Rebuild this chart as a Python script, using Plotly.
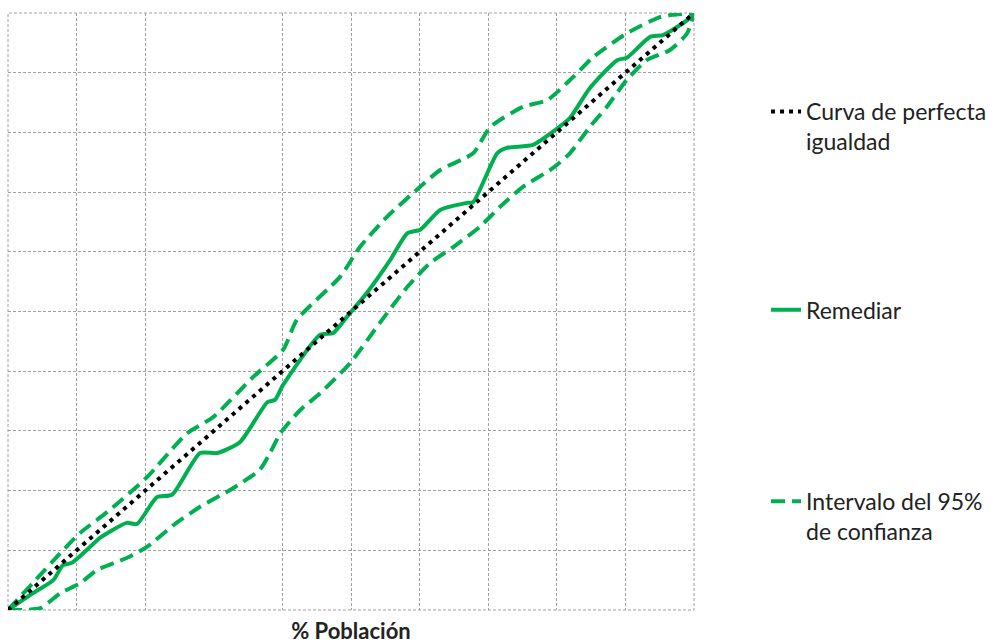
import plotly.graph_objects as go

# Perfect-equality diagonal
eq_x = [0, 100]
eq_y = [0, 100]

# Remediar concentration curve
rem_x = [0, 3.6, 6.6, 8.0, 9.3, 13.0, 13.4, 17.3, 18.8, 21.7, 23.9, 28.0, 30.5, 33.8,
         37.8, 38.9, 40.1, 45.5, 47.4, 49.4, 52.3, 55.7, 58.2, 60.1, 63.0, 66.9, 67.8,
         71.3, 72.7, 76.5, 79.4, 81.9, 84.8, 88.8, 90.2, 93.6, 95.5, 99.0, 100]
rem_y = [0, 2.8, 5.0, 7.5, 7.9, 11.7, 12.1, 14.6, 14.4, 18.9, 19.3, 26.3, 26.3, 28.1,
         34.8, 35.2, 37.7, 46.1, 46.4, 49.1, 53.1, 58.6, 63.1, 63.7, 67.0, 68.2, 68.3,
         76.5, 77.4, 77.9, 80.1, 82.4, 87.4, 92.1, 92.5, 96.0, 96.3, 98.8, 100]

# Upper bound of the 95% confidence interval
up_x = [0, 3.6, 7.6, 10.5, 14.9, 20.3, 26.1, 29.9, 35.7, 40.1, 42.1, 48.4, 51.3, 55.2,
        59.6, 63.0, 67.8, 70.3, 75.1, 78.6, 82.4, 85.3, 90.2, 95.0, 96.9, 100]
up_y = [0, 4.5, 9.5, 12.9, 16.8, 22.3, 29.6, 32.3, 39.0, 43.6, 48.6, 55.8, 60.8, 65.8,
        70.4, 73.7, 76.5, 80.9, 84.3, 85.4, 89.3, 92.6, 96.6, 99.3, 99.7, 100]

# Lower bound of the 95% confidence interval
lo_x = [0, 4.7, 7.6, 10.5, 13.0, 17.3, 20.3, 24.1, 28.0, 32.8, 36.7, 38.2, 39.7, 42.6,
        45.5, 49.9, 54.2, 58.2, 61.5, 64.9, 68.8, 71.7, 75.1, 79.4, 81.9, 84.8, 87.3,
        90.2, 93.1, 96.5, 99.0, 100]
lo_y = [0, 0.3, 2.8, 4.5, 6.7, 8.7, 10.6, 14.2, 17.3, 20.4, 23.5, 26.3, 29.6, 33.5,
        36.3, 41.4, 48.1, 54.1, 58.1, 60.8, 64.2, 67.5, 70.9, 74.0, 76.5, 80.9, 84.3,
        88.8, 92.1, 93.8, 96.6, 100]

grid_x = [10, 20, 40, 50, 60, 70, 80, 90]
grid_y = [10, 20, 30, 40, 50, 60, 70, 80, 90]

GREEN = "#00b050"
GRID = "#a0a0a0"

fig = go.Figure()
fig.add_trace(go.Scatter(x=lo_x, y=lo_y, mode="lines", name="Intervalo del 95%<br>de confianza",
                         line=dict(color=GREEN, width=4, dash="14px,7px", shape="spline", smoothing=0.6),
                         legend="legend3"))
fig.add_trace(go.Scatter(x=up_x, y=up_y, mode="lines", showlegend=False,
                         line=dict(color=GREEN, width=4, dash="14px,7px", shape="spline", smoothing=0.6)))
fig.add_trace(go.Scatter(x=rem_x, y=rem_y, mode="lines", name="Remediar",
                         line=dict(color=GREEN, width=4, shape="spline", smoothing=0.6),
                         legend="legend2"))
fig.add_trace(go.Scatter(x=eq_x, y=eq_y, mode="lines", name="Curva de perfecta<br>igualdad",
                         line=dict(color="black", width=4, dash="4px,5px"),
                         legend="legend"))

legend_common = dict(font=dict(family="Lato", size=23, color="#222222"),
                     bgcolor="rgba(0,0,0,0)", borderwidth=0, valign="top",
                     xanchor="left", yanchor="top")

# dashed frame around the plotting area (outer grid lines)
fig.add_shape(type="rect", xref="paper", yref="paper", x0=0, y0=0, x1=1, y1=1,
              line=dict(color=GRID, width=1, dash="3px,2px"), layer="below")

fig.update_layout(
    width=997, height=644,
    margin=dict(l=8, r=303, t=13, b=34, autoexpand=False),
    paper_bgcolor="white", plot_bgcolor="white",
    hovermode=False,
    xaxis=dict(range=[0, 100], tickvals=grid_x, showticklabels=False, ticks="",
               showgrid=True, gridcolor=GRID, gridwidth=1, griddash="3px,2px",
               zeroline=False, showline=False, automargin=False,
               title=dict(text="<b>% Población</b>", font=dict(family="Lato", size=22, color="#222222"),
                          standoff=16)),
    yaxis=dict(range=[0, 100], tickvals=grid_y, showticklabels=False, ticks="",
               showgrid=True, gridcolor=GRID, gridwidth=1, griddash="3px,2px",
               zeroline=False, showline=False, automargin=False),
    legend=dict(x=1.105, y=0.871, **legend_common),
    legend2=dict(x=1.105, y=0.539, **legend_common),
    legend3=dict(x=1.105, y=0.218, **legend_common),
)

# remove the default 8px body margin of the page so the figure fills the window
fig.write_html("out.html", config={"displayModeBar": False},
               post_script="document.body.style.margin='0px';")
